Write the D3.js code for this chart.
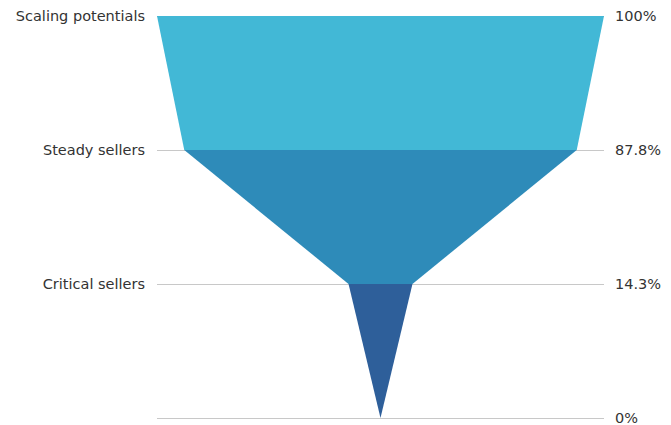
<!DOCTYPE html>
<html>
<head>
<meta charset="utf-8">
<script src="https://cdn.jsdelivr.net/npm/d3@7"></script>
<style>
  html, body { margin: 0; padding: 0; background: #fff; }
  svg { display: block; font-family: 'DejaVu Sans', sans-serif; }
</style>
</head>
<body>
<svg id="chart"></svg>
<script>
const stages = ['Scaling potentials', 'Steady sellers', 'Critical sellers', '']
const percents = [100, 87.8, 14.3, 0]
const tickLabels = ['100%', '87.8%', '14.3%', '0%']
const colors = ['#42b8d6', '#2e8bb9', '#2e5f9a']

const width = 671
const height = 425
const margin = { top: 16, right: 67, bottom: 7, left: 157 }

const svg = d3.select('#chart')
  .attr('width', width)
  .attr('height', height)

const y = d3.scalePoint()
  .domain(d3.range(stages.length))
  .range([margin.top, height - margin.bottom])

const w = d3.scaleLinear()
  .domain([0, 100])
  .range([0, width - margin.left - margin.right])

const cx = (margin.left + width - margin.right) / 2

// grid lines
svg.append('g')
  .selectAll('line')
  .data(d3.range(stages.length))
  .join('line')
  .attr('x1', margin.left)
  .attr('x2', width - margin.right)
  .attr('y1', i => y(i) + 0.5)
  .attr('y2', i => y(i) + 0.5)
  .attr('stroke', '#c8c8c8')
  .attr('stroke-width', 1)

// funnel segments
const segs = d3.range(stages.length - 1).map(i => ({
  i,
  top: percents[i],
  bottom: percents[i + 1]
}))

svg.append('g')
  .selectAll('path')
  .data(segs)
  .join('path')
  .attr('fill', d => colors[d.i])
  .attr('d', d => {
    const y0 = y(d.i)
    const y1 = y(d.i + 1)
    const a = w(d.top) / 2
    const b = w(d.bottom) / 2
    return `M${cx - a},${y0}L${cx + a},${y0}L${cx + b},${y1}L${cx - b},${y1}Z`
  })

// left labels
svg.append('g')
  .selectAll('text')
  .data(stages)
  .join('text')
  .attr('x', margin.left - 12)
  .attr('y', (_, i) => y(i))
  .attr('dy', '0.35em')
  .attr('text-anchor', 'end')
  .attr('font-size', 14.5)
  .attr('fill', '#333')
  .text(d => d)

// right labels
svg.append('g')
  .selectAll('text')
  .data(tickLabels)
  .join('text')
  .attr('x', width - margin.right + 11)
  .attr('y', (_, i) => y(i))
  .attr('dy', '0.33em')
  .attr('font-size', 14.5)
  .attr('fill', '#333')
  .text(d => d)
</script>
</body>
</html>
